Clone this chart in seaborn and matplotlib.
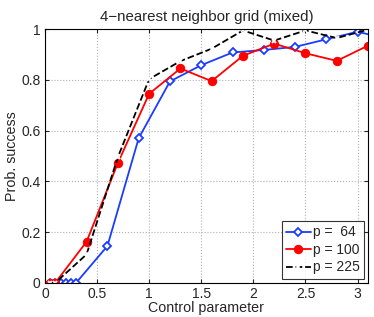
import numpy as np
import pandas as pd
import matplotlib
matplotlib.use("Agg")
import matplotlib.pyplot as plt
import seaborn as sns

# values
x64 = [0.05, 0.1, 0.15, 0.2, 0.25, 0.3, 0.6, 0.9, 1.2, 1.5, 1.8, 2.1, 2.4, 2.7, 3.0, 3.3]
y64 = [0, 0, 0, 0, 0, 0, 0.145, 0.57, 0.794, 0.858, 0.908, 0.918, 0.93, 0.96, 0.99, 0.96]

x100 = [0.05, 0.1, 0.4, 0.7, 1.0, 1.3, 1.6, 1.9, 2.2, 2.5, 2.8, 3.1]
y100 = [0, 0, 0.162, 0.472, 0.745, 0.845, 0.795, 0.895, 0.943, 0.905, 0.875, 0.935]

x225 = [0.05, 0.1, 0.4, 0.7, 1.0, 1.3, 1.6, 1.9, 2.2, 2.5, 2.8, 3.1]
y225 = [0, 0, 0.112, 0.495, 0.803, 0.874, 0.923, 0.995, 0.955, 0.995, 0.965, 0.998]

labels = ["p =  64", "p = 100", "p = 225"]

sns.set_style("ticks")
plt.rcParams["font.family"] = ["Liberation Sans", "DejaVu Sans"]
plt.rcParams["font.size"] = 10

fig = plt.figure(figsize=(3.74, 3.17), dpi=100)
ax = fig.add_axes([0.120, 0.108, 0.864, 0.800])

sns.lineplot(x=x64, y=y64, ax=ax, color="#1a3cff", lw=1.3, marker="D", ms=4.2,
             mfc="white", mec="#1a3cff", mew=1.3, label=labels[0], sort=False, estimator=None)
sns.lineplot(x=x100, y=y100, ax=ax, color="red", lw=1.3, marker="o", ms=6,
             mfc="red", mec="red", label=labels[1], sort=False, estimator=None)
sns.lineplot(x=x225, y=y225, ax=ax, color="black", lw=1.3, ls="--", marker="x", ms=3.5,
             mew=1.3, label=labels[2], sort=False, estimator=None)

ax.set_xlim(0, 3.1)
ax.set_ylim(0, 1)
ax.set_xticks([0, 0.5, 1, 1.5, 2, 2.5, 3])
ax.set_xticklabels(["0", "0.5", "1", "1.5", "2", "2.5", "3"])
ax.set_yticks([0, 0.2, 0.4, 0.6, 0.8, 1])
ax.set_yticklabels(["0", "0.2", "0.4", "0.6", "0.8", "1"])
ax.grid(True, ls=":", color="#b0b0b0", lw=0.8)
ax.tick_params(direction="in", top=True, right=True, length=3, labelsize=10, pad=3)
for s in ax.spines.values():
    s.set_linewidth(0.8)
    s.set_color("black")

ax.set_xlabel("Control parameter", fontsize=10.3, labelpad=0)
ax.set_ylabel("Prob. success", fontsize=10.3, labelpad=2)
ax.set_title("4\u2212nearest neighbor grid (mixed)", fontsize=10.8, pad=6)

leg = ax.legend(loc="lower right", fontsize=10, frameon=True, fancybox=False,
                borderpad=0.3, labelspacing=0.25, handlelength=1.8, handletextpad=0.15,
                borderaxespad=0.3)
leg.get_frame().set_edgecolor("black")
leg.get_frame().set_linewidth(0.8)

fig.savefig("out.png", dpi=100)
